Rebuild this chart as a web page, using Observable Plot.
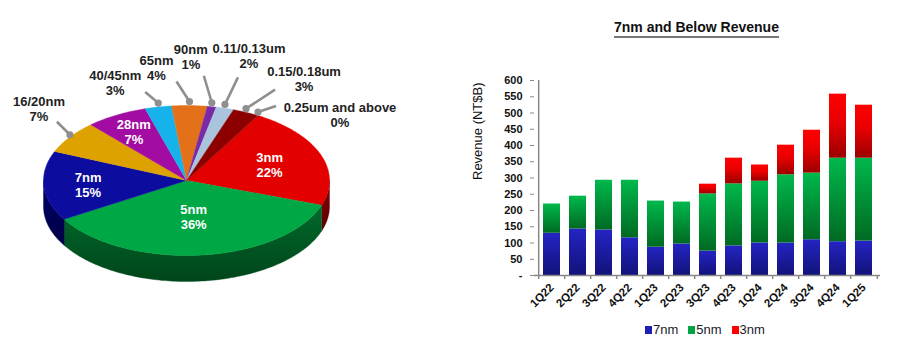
<!DOCTYPE html>
<html>
<head>
<meta charset="utf-8">
<script src="https://cdn.jsdelivr.net/npm/d3@7"></script>
<script src="https://cdn.jsdelivr.net/npm/@observablehq/plot@0.6"></script>
<style>
  body { margin: 0; background: #fff; font-family: "Liberation Sans", Arial, sans-serif; }
  #wrap { position: relative; width: 900px; height: 361px; overflow: hidden; }
  #pie { position: absolute; left: 0; top: 0; }
  #bars { position: absolute; left: 460px; top: 40px; }
  #title { position: absolute; left: 614px; top: 19px; font-weight: bold; font-size: 14px; color: #111;
           line-height: 16px; border-bottom: 2px solid #777; padding-bottom: 1px; white-space: nowrap; }
  #legend { position: absolute; left: 645px; top: 322px; font-size: 13px; color: #1a1a2a; white-space: nowrap; }
  #legend span.sw { display: inline-block; width: 7px; height: 8px; margin-right: 1px; vertical-align: 0px; }
  #legend span.it { margin-right: 10px; }
</style>
</head>
<body>
<div id="wrap">
  <div id="pie"></div>
  <div id="title">7nm and Below Revenue</div>
  <div id="bars"></div>
  <div id="legend"></div>
</div>
<script>
// ---------------- DATA ----------------
const pieLabels = ["3nm", "5nm", "7nm", "16/20nm", "28nm", "40/45nm", "65nm", "90nm", "0.11/0.13um", "0.15/0.18um", "0.25um and above"];
const pieShares = [22, 36, 15, 7, 7, 3, 4, 1, 2, 3, 0];

const quarters = ["1Q22", "2Q22", "3Q22", "4Q22", "1Q23", "2Q23", "3Q23", "4Q23", "1Q24", "2Q24", "3Q24", "4Q24", "1Q25"];
const rev7nm = [130, 143, 140, 116, 87, 97, 75, 91, 100, 100, 110, 104, 106];
const rev5nm = [90, 101, 153, 177, 142, 129, 176, 191, 190, 210, 205, 257, 255];
const rev3nm = [0, 0, 0, 0, 0, 0, 30, 79, 50, 91, 132, 197, 163];
const seriesNames = ["7nm", "5nm", "3nm"];
const yTicks = [0, 50, 100, 150, 200, 250, 300, 350, 400, 450, 500, 550, 600];

// ---------------- STYLES / LAYOUT ----------------
const pieTopColors = ["#e20000", "#00a845", "#0c0c9e", "#dea200", "#a20ca2", "#16b2ec", "#e2711a", "#7a2aa6", "#a9c4dc", "#8c0000", "#6a0000"];
const pieSideColors = ["#8a0000", "#006a2a", "#00006a", "#8a6400", "#600060", "#0a6e94", "#8a4410", "#4a1a66", "#6a8298", "#500000", "#400000"];
const insideRadius = {"3nm": 0.62, "5nm": 0.48, "7nm": 0.69, "28nm": 0.75};
const calloutLayout = {
  "16/20nm": [-13, -13, -18, -13],
  "40/45nm": [-13, -11, -30, -9],
  "65nm": [-13, -20, -20, -14],
  "90nm": [-8, -27, -13, -19],
  "0.11/0.13um": [13, -27, 11, -22],
  "0.15/0.18um": [29, -19, 29, -11],
  "0.25um and above": [18, -6, 64, 9]
};
const geom = {cx: 186, cy: 180, rx: 143, ry: 75, depth: 26, startDeg: 30};
const font = '"Liberation Sans", Arial, sans-serif';

// ---------------- PIE ----------------
const pieData = pieLabels.map((label, i) => ({label, share: pieShares[i], i}));
const arcs = d3.pie().sort(null).value(d => d.share)
  .startAngle(geom.startDeg * Math.PI / 180)
  .endAngle((geom.startDeg + 360) * Math.PI / 180)(pieData);

const px = (a, k = 1) => geom.cx + geom.rx * k * Math.sin(a);
const py = (a, k = 1, dy = 0) => geom.cy - geom.ry * k * Math.cos(a) + dy;

const polys = [];
// side walls (front half only)
arcs.forEach(a => {
  if (a.endAngle - a.startAngle <= 0) return;
  const ranges = [];
  for (const off of [0, 2 * Math.PI]) {
    const lo = Math.max(a.startAngle, Math.PI / 2 + off), hi = Math.min(a.endAngle, 3 * Math.PI / 2 + off);
    if (hi > lo) ranges.push([lo, hi]);
  }
  ranges.forEach(([lo, hi], r) => {
    const key = "side-" + a.data.label + r;
    const n = Math.max(2, Math.ceil((hi - lo) / 0.02));
    const pts = [];
    for (let k = 0; k <= n; k++) { const t = lo + (hi - lo) * k / n; pts.push([px(t), py(t)]); }
    for (let k = n; k >= 0; k--) { const t = lo + (hi - lo) * k / n; pts.push([px(t), py(t, 1, geom.depth)]); }
    pts.forEach(([x, y]) => polys.push({key, x, y, fill: "url(#side" + a.data.i + ")"}));
  });
});
// top faces
arcs.forEach(a => {
  if (a.endAngle - a.startAngle <= 0) return;
  const key = "top-" + a.data.label;
  const n = Math.max(2, Math.ceil((a.endAngle - a.startAngle) / 0.02));
  polys.push({key, x: geom.cx, y: geom.cy, fill: pieTopColors[a.data.i]});
  for (let k = 0; k <= n; k++) {
    const t = a.startAngle + (a.endAngle - a.startAngle) * k / n;
    polys.push({key, x: px(t), y: py(t), fill: pieTopColors[a.data.i]});
  }
});

const inside = arcs.filter(a => insideRadius[a.data.label] != null).map(a => {
  const m = (a.startAngle + a.endAngle) / 2, k = insideRadius[a.data.label];
  return {x: px(m, k), y: py(m, k), text: a.data.label + "\n" + a.data.share + "%"};
});
const callouts = arcs.filter(a => calloutLayout[a.data.label]).map(a => {
  const m = (a.startAngle + a.endAngle) / 2;
  const [ldx, ldy, tdx, tdy] = calloutLayout[a.data.label];
  const x0 = px(m), y0 = geom.cy - (geom.ry + 4) * Math.cos(m);
  return {x0, y0, x1: x0 + ldx, y1: y0 + ldy, tx: x0 + ldx + tdx, ty: y0 + ldy + tdy,
          text: a.data.label + "\n" + a.data.share + "%"};
});

const piePlot = Plot.plot({
  width: 450, height: 361, margin: 0,
  x: {domain: [0, 450], range: [0, 450], axis: null},
  y: {domain: [0, 361], range: [0, 361], axis: null},
  color: {type: "identity"},
  style: {fontFamily: font, background: "transparent"},
  marks: [
    Plot.line(polys, {x: "x", y: "y", z: "key", fill: "fill", stroke: "fill", strokeWidth: 0.4, curve: "linear-closed"}),
    Plot.link(callouts, {x1: "x0", y1: "y0", x2: "x1", y2: "y1", stroke: "#8f8f8f", strokeWidth: 2.6}),
    Plot.dot(callouts, {x: "x0", y: "y0", r: 3.6, fill: "#8f8f8f"}),
    Plot.text(callouts, {x: "tx", y: "ty", text: "text", fill: "#222", fontSize: 13, fontWeight: "bold", lineHeight: 1.15}),
    Plot.text(inside, {x: "x", y: "y", text: "text", fill: "#fff", fontSize: 13, fontWeight: "bold", lineHeight: 1.15})
  ]
});
const pieDefs = pieSideColors.map((c, i) =>
  `<linearGradient id="side${i}" x1="0" y1="0" x2="0" y2="1">
     <stop offset="0" stop-color="${c}"/><stop offset="1" stop-color="${d3.color(c).darker(1.2)}"/>
   </linearGradient>`).join("");
d3.select(piePlot).insert("defs", ":first-child").html(pieDefs);
document.getElementById("pie").appendChild(piePlot);

// ---------------- BARS ----------------
const table = [];
quarters.forEach((q, i) => {
  table.push({q, s: "7nm", v: rev7nm[i]});
  table.push({q, s: "5nm", v: rev5nm[i]});
  table.push({q, s: "3nm", v: rev3nm[i]});
});
const barFill = {"7nm": "url(#gb)", "5nm": "url(#gg)", "3nm": "url(#gr)"};
const W = 440, H = 270, mL = 74, mR = 20, mT = 40, mB = 35;
const step = (W - mL - mR) / quarters.length;

const barPlot = Plot.plot({
  width: W, height: H, marginLeft: mL, marginRight: mR, marginTop: mT, marginBottom: mB,
  x: {domain: quarters, paddingInner: 0.35, paddingOuter: 0.175, axis: null},
  y: {domain: [0, 600], axis: null},
  color: {type: "identity"},
  style: {fontFamily: font, background: "transparent", color: "#111", overflow: "visible"},
  marks: [
    Plot.barY(table, {x: "q", y: "v", fill: d => barFill[d.s]}),
    Plot.ruleY([0], {stroke: "#888", strokeWidth: 1.5}),
    Plot.ruleX([quarters[0]], {dx: -step / 2, y1: 0, y2: 600, stroke: "#888", strokeWidth: 1.5}),
    Plot.ruleX(quarters, {x: d => d, dx: -step / 2, y1: 0, y2: 0, insetBottom: -4, stroke: "#888", strokeWidth: 1.5}),
    Plot.ruleX([quarters[quarters.length - 1]], {dx: step / 2, y1: 0, y2: 0, insetBottom: -4, stroke: "#888", strokeWidth: 1.5}),
    Plot.axisY({ticks: yTicks, tickSize: 4, tickPadding: 8, tickFormat: d => d === 0 ? "-" : d, fontSize: 11, fontWeight: "bold", label: null, stroke: "#888"}),
    Plot.axisX({tickSize: 0, tickPadding: 10, tickRotate: -45, fontSize: 11.5, fontWeight: "bold", label: null}),
    Plot.text(["Revenue (NT$B)"], {frameAnchor: "left", rotate: -90, dx: -57, dy: 2, fontSize: 13, fill: "#111"})
  ]
});
const barDefs = `
  <linearGradient id="gb" x1="0" y1="0" x2="0" y2="1"><stop offset="0" stop-color="#2424c4"/><stop offset="1" stop-color="#12127a"/></linearGradient>
  <linearGradient id="gg" x1="0" y1="0" x2="0" y2="1"><stop offset="0" stop-color="#00b84c"/><stop offset="1" stop-color="#006a22"/></linearGradient>
  <linearGradient id="gr" x1="0" y1="0" x2="0" y2="1"><stop offset="0" stop-color="#ff0000"/><stop offset="0.45" stop-color="#e80000"/><stop offset="1" stop-color="#9a0000"/></linearGradient>`;
d3.select(barPlot).insert("defs", ":first-child").html(barDefs);
document.getElementById("bars").appendChild(barPlot);

// ---------------- LEGEND ----------------
const swatch = {"7nm": "#1f1fb4", "5nm": "#00a443", "3nm": "#ff0000"};
document.getElementById("legend").innerHTML = seriesNames.map(s =>
  `<span class="it"><span class="sw" style="background:${swatch[s]}"></span>${s}</span>`).join("");
</script>
</body>
</html>
